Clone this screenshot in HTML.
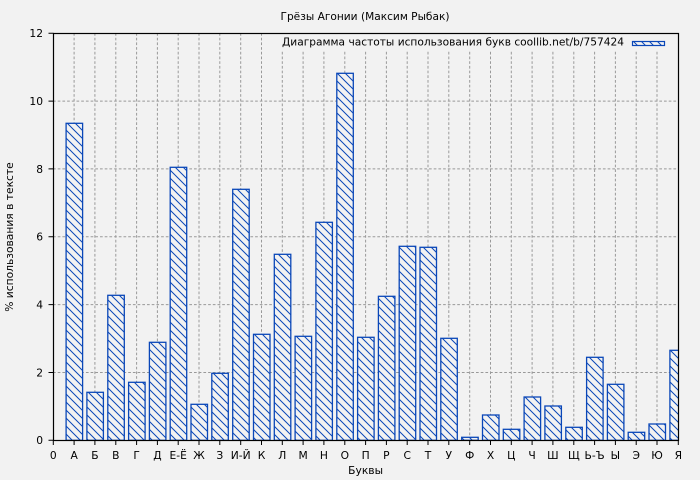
<!DOCTYPE html>
<html><head><meta charset="utf-8"><style>
html,body{margin:0;padding:0;background:#f2f2f2;}
svg{display:block;}
text{font-family:"DejaVu Sans","Liberation Sans",sans-serif;font-size:10.7px;fill:#000;}
</style></head><body>
<svg width="700" height="480" viewBox="0 0 700 480" xmlns="http://www.w3.org/2000/svg">
<defs>
<pattern id="h" patternUnits="userSpaceOnUse" width="8" height="8">
<rect width="8" height="8" fill="#f2f2f2"/>
<path d="M-1,-1 L9,9 M-1,7 L1,9 M7,-1 L9,1" stroke="#0a47b8" stroke-width="1"/>
</pattern>
<clipPath id="c"><rect x="53.3" y="33.3" width="625" height="407"/></clipPath>
</defs>
<rect width="700" height="480" fill="#f2f2f2"/>
<text x="365" y="20" text-anchor="middle" textLength="169" lengthAdjust="spacingAndGlyphs">Грёзы Агонии (Максим Рыбак)</text>
<g stroke="#999" stroke-width="1" stroke-dasharray="2.7,2" fill="none">
<path d="M53,372.5H678M53,304.6H678M53,236.8H678M53,168.9H678M53,101.1H678"/>
<path d="M74.1,33V440M94.9,33V440M115.8,33V440M136.6,33V440M157.4,33V440M178.2,33V440M199.0,33V440M219.8,33V440M240.7,33V440M261.5,33V440M282.3,33V440M303.1,33V440M323.9,33V440M344.8,33V440M365.6,33V440M386.4,33V440M407.2,33V440M428.0,33V440M448.8,33V440M469.7,33V440M490.5,33V440M511.3,33V440M532.1,33V440M552.9,33V440M573.8,33V440M594.6,33V440M615.4,33V440M636.2,33V440M657.0,33V440"/>
</g>
<g clip-path="url(#c)" fill="url(#h)" stroke="#0a47b8" stroke-width="1.3">
<rect x="66.1" y="123.3" width="16.5" height="317"/>
<rect x="86.9" y="392.3" width="16.5" height="48"/>
<rect x="107.8" y="295.3" width="16.5" height="145"/>
<rect x="128.6" y="382.3" width="16.5" height="58"/>
<rect x="149.4" y="342.3" width="16.5" height="98"/>
<rect x="170.2" y="167.3" width="16.5" height="273"/>
<rect x="191.0" y="404.3" width="16.5" height="36"/>
<rect x="211.8" y="373.3" width="16.5" height="67"/>
<rect x="232.7" y="189.3" width="16.5" height="251"/>
<rect x="253.5" y="334.3" width="16.5" height="106"/>
<rect x="274.3" y="254.3" width="16.5" height="186"/>
<rect x="295.1" y="336.3" width="16.5" height="104"/>
<rect x="315.9" y="222.3" width="16.5" height="218"/>
<rect x="336.8" y="73.3" width="16.5" height="367"/>
<rect x="357.6" y="337.3" width="16.5" height="103"/>
<rect x="378.4" y="296.3" width="16.5" height="144"/>
<rect x="399.2" y="246.3" width="16.5" height="194"/>
<rect x="420.0" y="247.3" width="16.5" height="193"/>
<rect x="440.8" y="338.3" width="16.5" height="102"/>
<rect x="461.7" y="437.3" width="16.5" height="3"/>
<rect x="482.5" y="415.0" width="16.5" height="25.3"/>
<rect x="503.3" y="429.3" width="16.5" height="11"/>
<rect x="524.1" y="397.0" width="16.5" height="43.3"/>
<rect x="544.9" y="406.0" width="16.5" height="34.3"/>
<rect x="565.8" y="427.3" width="16.5" height="13"/>
<rect x="586.6" y="357.3" width="16.5" height="83"/>
<rect x="607.4" y="384.3" width="16.5" height="56"/>
<rect x="628.2" y="432.3" width="16.5" height="8"/>
<rect x="649.0" y="424.0" width="16.5" height="16.3"/>
<rect x="669.9" y="350.3" width="16.5" height="90"/>
</g>
<rect x="272" y="34" width="404" height="17" fill="#f2f2f2"/>
<text x="282" y="45.5" textLength="342" lengthAdjust="spacingAndGlyphs">Диаграмма частоты использования букв coollib.net/b/757424</text>
<rect x="632.5" y="41.5" width="32" height="4" fill="url(#h)" stroke="#0a47b8" stroke-width="1.2"/>
<rect x="53.5" y="33.5" width="625" height="407" fill="none" stroke="#000" stroke-width="1.2"/>
<g stroke="#000" stroke-width="1">
<path d="M48.5,440.3H53.5M48.5,372.5H53.5M48.5,304.6H53.5M48.5,236.8H53.5M48.5,168.9H53.5M48.5,101.1H53.5M48.5,33.3H53.5"/>
<path d="M53.3,440V445M74.1,440V445M94.9,440V445M115.8,440V445M136.6,440V445M157.4,440V445M178.2,440V445M199.0,440V445M219.8,440V445M240.7,440V445M261.5,440V445M282.3,440V445M303.1,440V445M323.9,440V445M344.8,440V445M365.6,440V445M386.4,440V445M407.2,440V445M428.0,440V445M448.8,440V445M469.7,440V445M490.5,440V445M511.3,440V445M532.1,440V445M552.9,440V445M573.8,440V445M594.6,440V445M615.4,440V445M636.2,440V445M657.0,440V445M678.3,440V445"/>
</g>
<g text-anchor="end">
<text x="43" y="444.2">0</text>
<text x="43" y="376.4">2</text>
<text x="43" y="308.5">4</text>
<text x="43" y="240.7">6</text>
<text x="43" y="172.8">8</text>
<text x="43" y="105">10</text>
<text x="43" y="37.2">12</text>
</g>
<g text-anchor="middle">
<text x="53.3" y="459">0</text>
<text x="74.1" y="459">А</text>
<text x="94.9" y="459">Б</text>
<text x="115.8" y="459">В</text>
<text x="136.6" y="459">Г</text>
<text x="157.4" y="459">Д</text>
<text x="178.2" y="459">Е-Ё</text>
<text x="199.0" y="459">Ж</text>
<text x="219.8" y="459">З</text>
<text x="240.7" y="459">И-Й</text>
<text x="261.5" y="459">К</text>
<text x="282.3" y="459">Л</text>
<text x="303.1" y="459">М</text>
<text x="323.9" y="459">Н</text>
<text x="344.8" y="459">О</text>
<text x="365.6" y="459">П</text>
<text x="386.4" y="459">Р</text>
<text x="407.2" y="459">С</text>
<text x="428.0" y="459">Т</text>
<text x="448.8" y="459">У</text>
<text x="469.7" y="459">Ф</text>
<text x="490.5" y="459">Х</text>
<text x="511.3" y="459">Ц</text>
<text x="532.1" y="459">Ч</text>
<text x="552.9" y="459">Ш</text>
<text x="573.8" y="459">Щ</text>
<text x="594.6" y="459">Ь-Ъ</text>
<text x="615.4" y="459">Ы</text>
<text x="636.2" y="459">Э</text>
<text x="657.0" y="459">Ю</text>
<text x="678.3" y="459">Я</text>
<text x="365.6" y="474">Буквы</text>
<text transform="translate(13,237) rotate(-90)">% использования в тексте</text>
</g>
</svg>
</body></html>
